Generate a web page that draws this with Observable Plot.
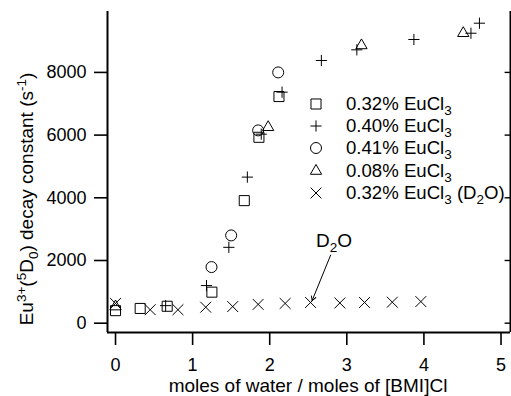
<!DOCTYPE html>
<html><head><meta charset="utf-8">
<script src="https://cdn.jsdelivr.net/npm/d3@7"></script>
<script src="https://cdn.jsdelivr.net/npm/@observablehq/plot@0.6"></script>
<style>
body{margin:0;background:#fff;}
#wrap{position:relative;width:511px;height:396px;font-family:"Liberation Sans",Arial,Helvetica,sans-serif;color:#000;}
#legend{position:absolute;left:306px;top:93px;font-size:18.6px;line-height:22.2px;}
#legend .row{display:flex;align-items:center;height:22.2px;white-space:nowrap;}
#legend svg{width:20px;height:20px;margin-right:20px;overflow:visible;}
#legend sub{font-size:13.5px;vertical-align:-5px;line-height:0;}
</style></head><body><div id="wrap"><div id="legend"></div></div>
<script>
// ---- data ----
const xTicks = [0, 1, 2, 3, 4, 5];
const yTicks = [0, 2000, 4000, 6000, 8000];

const sq032X = [0, 0.32, 0.67, 1.25, 1.67, 1.86, 2.12];
const sq032Y = [400, 470, 540, 990, 3910, 5930, 7230];

const p040X = [0.65, 1.18, 1.47, 1.71, 1.89, 2.16, 2.67, 3.13, 3.87, 4.61, 4.72];
const p040Y = [560, 1200, 2420, 4660, 6030, 7370, 8380, 8720, 9050, 9250, 9570];

const c041X = [1.245, 1.50, 1.85, 2.11];
const c041Y = [1790, 2800, 6150, 8000];

const t008X = [0, 1.98, 3.19, 4.51];
const t008Y = [530, 6250, 8860, 9250];

const d2oX = [0, 0.45, 0.81, 1.17, 1.52, 1.85, 2.20, 2.53, 2.91, 3.23, 3.59, 3.96];
const d2oY = [630, 430, 430, 510, 530, 600, 630, 660, 645, 660, 670, 690];

const seriesNames = ["0.32% EuCl3", "0.40% EuCl3", "0.41% EuCl3", "0.08% EuCl3", "0.32% EuCl3 (D2O)"];
const annotation = {label: "D2O", x: 2.84, y: 2430, x1: 2.79, y1: 2170, x2: 2.55, y2: 720};

// ---- build ----
const zip = (xs, ys) => xs.map((x, i) => ({x, y: ys[i]}));
const series = [
  {data: zip(sq032X, sq032Y), symbol: "square2", r: 6.4},
  {data: zip(p040X, p040Y), symbol: "plus", r: 3.7},
  {data: zip(c041X, c041Y), symbol: "circle", r: 5.5},
  {data: zip(t008X, t008Y), symbol: "triangle2", r: 5.4},
  {data: zip(d2oX, d2oY), symbol: "times", r: 5.0}
];

const xDom = [-0.104, 5.123], yDom = [-297, 9943];
const FS = 18, LFS = 19;

const plot = Plot.plot({
  width: 511, height: 396,
  marginLeft: 107, marginRight: 1, marginTop: 11, marginBottom: 64,
  style: {fontFamily: "Liberation Sans, Arial, Helvetica, sans-serif", fontSize: FS + "px", color: "#000", background: "#fff", overflow: "visible"},
  x: {domain: xDom},
  y: {domain: yDom},
  marks: [
    Plot.axisX({ticks: xTicks, tickSize: 13, tickPadding: 13, tickFormat: d => String(d), label: null, fontSize: FS, strokeWidth: 1.6}),
    Plot.axisY({ticks: yTicks, tickSize: 13, tickPadding: 8, tickFormat: d => String(d), label: null, fontSize: FS, strokeWidth: 1.6}),
    Plot.ruleY(yTicks, {x1: xDom[1] - 0.07, x2: xDom[1], stroke: "#000", strokeWidth: 1.4}),
    Plot.ruleX([xDom[0]], {stroke: "#000", strokeWidth: 2}),
    Plot.ruleX([xDom[1]], {stroke: "#000", strokeWidth: 2}),
    Plot.ruleY([yDom[0]], {stroke: "#000", strokeWidth: 2}),
    ...series.map(s => Plot.dot(s.data, {x: "x", y: "y", symbol: () => s.symbol, r: s.r, stroke: "#000", strokeWidth: 1, fill: "none"})),
    Plot.arrow([annotation], {x1: "x1", y1: "y1", x2: "x2", y2: "y2", stroke: "#000", strokeWidth: 1, headLength: 7})
  ]
});

const wrap = document.getElementById("wrap");
wrap.insertBefore(plot, wrap.firstChild);

const svg = d3.select(plot);
const sx = plot.scale("x"), sy = plot.scale("y");
const font = "Liberation Sans, Arial, Helvetica, sans-serif";

// annotation text with subscript
const ann = svg.append("text").attr("x", sx.apply(annotation.x)).attr("y", sy.apply(annotation.y))
  .attr("text-anchor", "middle").attr("font-size", LFS).attr("font-family", font);
ann.append("tspan").text("D");
ann.append("tspan").attr("font-size", 13.5).attr("dy", 5).text("2");
ann.append("tspan").attr("dy", -5).text("O");

// x axis label
svg.append("text").attr("x", 308).attr("y", 392).attr("text-anchor", "middle")
  .attr("font-size", LFS).attr("font-family", font).text("moles of water / moles of [BMI]Cl");

// y axis label
const yl = svg.append("text").attr("transform", "translate(33,199) rotate(-90)").attr("text-anchor", "middle")
  .attr("font-size", LFS).attr("font-family", font);
const parts = [["Eu",0,LFS],["3+",-7,13.5],["(",7,LFS],["5",-7,13.5],["D",7,LFS],["0",5,13.5],[") decay constant (s",-5,LFS],["-1",-7,13.5],[")",7,LFS]];
parts.forEach(([t, dy, fs]) => yl.append("tspan").attr("dy", dy).attr("font-size", fs).text(t));

// legend
const symMap = {square2: d3.symbolSquare2, plus: d3.symbolPlus, circle: d3.symbolCircle, triangle2: d3.symbolTriangle2, times: d3.symbolTimes};
const legend = d3.select("#legend");
seriesNames.forEach((name, i) => {
  const s = series[i];
  const row = legend.append("div").attr("class", "row");
  const sv = row.append("svg").attr("viewBox", "-10 -10 20 20");
  sv.append("path").attr("d", d3.symbol(symMap[s.symbol], Math.PI * s.r * s.r)()).attr("fill", "none").attr("stroke", "#000").attr("stroke-width", 1);
  const m = name.match(/^(.*EuCl)3(.*)$/);
  let html = m[1] + "<sub>3</sub>";
  if (m[2]) html += m[2].replace("D2O", "D<sub>2</sub>O");
  row.append("span").html(html);
});
</script>
</body></html>
